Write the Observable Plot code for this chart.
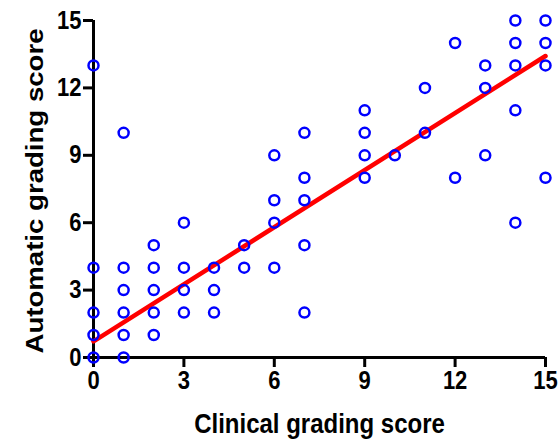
<!DOCTYPE html>
<html>
<head>
<meta charset="utf-8">
<script src="https://cdn.jsdelivr.net/npm/d3@7"></script>
<script src="https://cdn.jsdelivr.net/npm/@observablehq/plot@0.6"></script>
<style>
  html, body { margin: 0; padding: 0; background: #fff; }
  #chart { width: 560px; height: 439px; overflow: hidden; }
</style>
</head>
<body>
<div id="chart"></div>
<script>
// Clinical grading score (x) and automatic grading score (y) for each case
const clinical  = [0,0,0,0,0, 1,1,1,1,1,1, 2,2,2,2,2, 3,3,3,3, 4,4,4, 5,5, 6,6,6,6, 7,7,7,7,7, 9,9,9,9, 10, 11,11, 12,12, 13,13,13, 14,14,14,14,14, 15,15,15,15];
const automatic = [0,1,2,4,13, 0,1,2,3,4,10, 1,2,3,4,5, 2,3,4,6, 2,3,4, 4,5, 4,6,7,9, 2,5,7,8,10, 8,9,10,11, 9, 10,12, 8,14, 9,12,13, 6,11,13,14,15, 8,13,14,15];

// Fitted regression line end points
const fitX = [0, 15];
const fitY = [0.72, 13.42];

const xTicks = [0, 3, 6, 9, 12, 15];
const yTicks = [0, 3, 6, 9, 12, 15];

const xTitle = "Clinical grading score";
const yTitle = "Automatic grading score";

const points = clinical.map((c, i) => ({clinical: c, automatic: automatic[i]}));
const fit = fitX.map((x, i) => ({x, y: fitY[i]}));

const font = "'Liberation Sans', Arial, Helvetica, sans-serif";

const chart = Plot.plot({
  width: 560,
  height: 439,
  marginLeft: 93,
  marginRight: 15,
  marginTop: 20,
  marginBottom: 82,
  style: {fontFamily: font, fontWeight: "bold", fontSize: "22px", color: "#000", background: "#fff", overflow: "visible"},
  x: {domain: [0, 15]},
  y: {domain: [0, 15]},
  marks: [
    Plot.axisY({ticks: yTicks, tickSize: 10, tickPadding: 2, strokeWidth: 3, fontSize: 22, fontWeight: "bold", label: null, tickFormat: d => String(d)}),
    Plot.axisX({ticks: xTicks, tickSize: 10, tickPadding: 5, strokeWidth: 3, fontSize: 22, fontWeight: "bold", label: null, tickFormat: d => String(d)}),
    Plot.ruleX([0], {y1: 0, y2: 15, stroke: "#000", strokeWidth: 3}),
    Plot.ruleY([0], {x1: 0, x2: 15, stroke: "#000", strokeWidth: 3}),
    Plot.line(fit, {x: "x", y: "y", stroke: "#ff0000", strokeWidth: 4.5}),
    Plot.dot(points, {x: "clinical", y: "automatic", r: 5, stroke: "#0000ff", strokeWidth: 2.5, fill: "none"}),
    Plot.text([xTitle], {frameAnchor: "bottom", lineAnchor: "bottom", dy: 74, fontSize: 24, fontWeight: "bold", fill: "#000"}),
    Plot.text([yTitle], {frameAnchor: "left", textAnchor: "middle", rotate: -90, dx: -58, dy: 2, fontSize: 24, fontWeight: "bold", fill: "#000"})
  ]
});

document.getElementById("chart").appendChild(chart);

// The reference figure is slightly stretched vertically: stretch each text about its centre.
const svgEl = chart.tagName.toLowerCase() === "svg" ? chart : chart.querySelector("svg");
const sr = svgEl.getBoundingClientRect();
const stretch = 1.15;
Array.from(svgEl.querySelectorAll("text")).forEach(t => {
  const r = t.getBoundingClientRect();
  const cy = r.top + r.height / 2 - sr.top;
  const parent = t.parentNode;
  const m = parent.getCTM ? parent.getCTM() : null;
  const cyLocal = m ? (cy - m.f) / m.d : cy;
  const g = document.createElementNS("http://www.w3.org/2000/svg", "g");
  g.setAttribute("transform", `translate(0,${cyLocal}) scale(1,${stretch}) translate(0,${-cyLocal})`);
  parent.insertBefore(g, t);
  g.appendChild(t);
});
</script>
</body>
</html>
